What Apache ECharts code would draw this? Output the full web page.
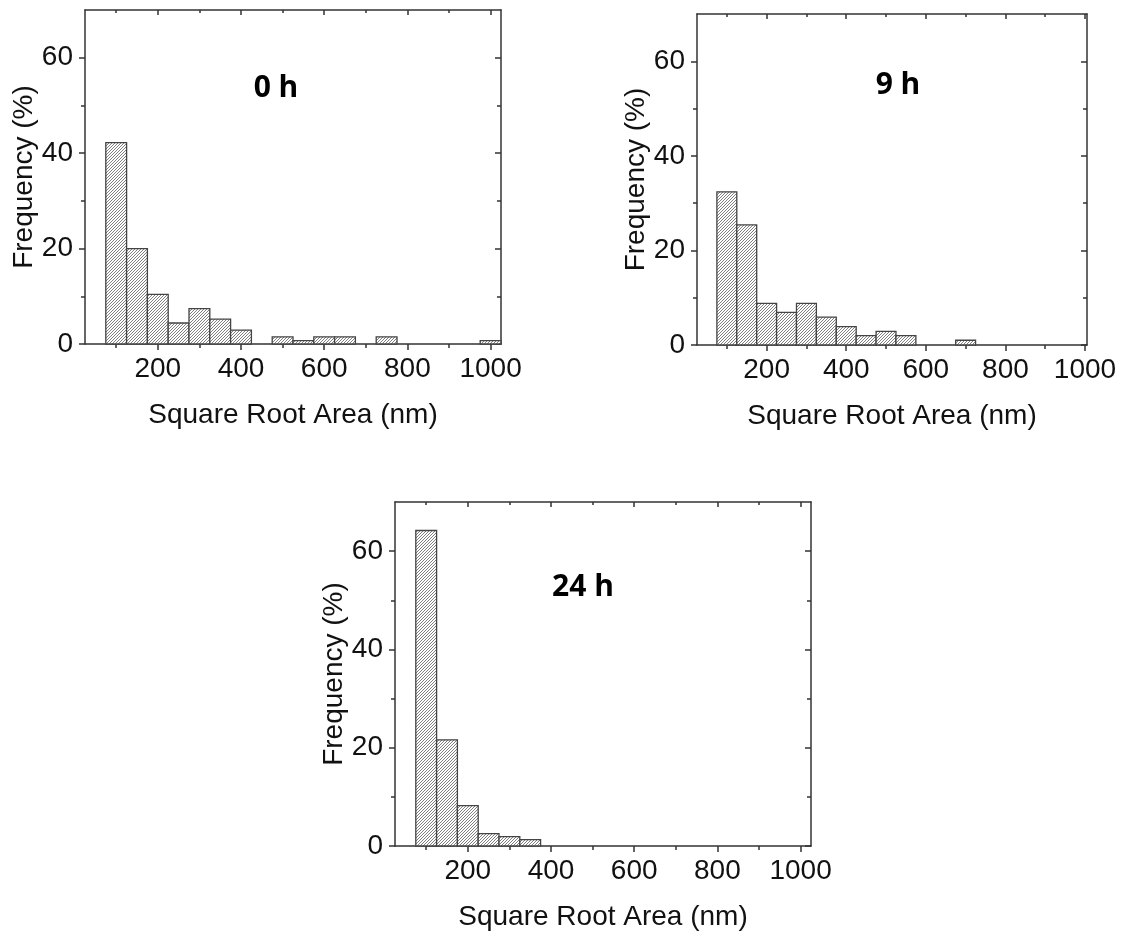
<!DOCTYPE html>
<html>
<head>
<meta charset="utf-8">
<script src="https://cdn.jsdelivr.net/npm/echarts@6/dist/echarts.min.js"></script>
<style>
html, body { margin: 0; padding: 0; background: #fff; }
#chart { width: 1136px; height: 938px; }
</style>
</head>
<body>
<div id="chart"></div>
<script>
// histogram bins, 50 nm wide, given by their centre
var binWidth = 50;
var bins0h = [100, 150, 200, 250, 300, 350, 400, 450, 500, 550, 600, 650, 700, 750, 800, 850, 900, 950, 1000];
var freq0h = [42.2, 20.0, 10.4, 4.4, 7.4, 5.2, 2.9, 0, 1.5, 0.7, 1.5, 1.5, 0, 1.5, 0, 0, 0, 0, 0.7];
var bins9h = [100, 150, 200, 250, 300, 350, 400, 450, 500, 550, 600, 650, 700];
var freq9h = [32.4, 25.4, 8.8, 6.9, 8.8, 5.9, 3.9, 2.0, 2.9, 2.0, 0, 0, 1.0];
var bins24h = [100, 150, 200, 250, 300, 350];
var freq24h = [64.2, 21.6, 8.2, 2.5, 1.9, 1.3];

var panelNames = ['0 h', '9 h', '24 h'];
var xMajorTicks = [200, 400, 600, 800, 1000];
var xMinorTicks = [100, 300, 500, 700, 900];
var yMajorTicks = [0, 20, 40, 60];
var yMinorTicks = [10, 30, 50];
var xName = 'Square Root Area (nm)';
var yName = 'Frequency (%)';

var chart = echarts.init(document.getElementById('chart'));

// diagonal hatch (///) used as the bar fill
function makeHatch() {
    var cv = document.createElement('canvas');
    cv.width = 3;
    cv.height = 3;
    var ctx = cv.getContext('2d');
    ctx.fillStyle = '#ffffff';
    ctx.fillRect(0, 0, 3, 3);
    ctx.fillStyle = '#808080';
    for (var x = 0; x < 3; x++) {
        ctx.fillRect(x, 2 - x, 1, 1);
    }
    return cv;
}
var hatch = { image: makeHatch(), repeat: 'repeat' };

var frameColor = '#333333';
var textColor = '#111111';
var labelFont = { fontFamily: 'Liberation Sans', fontSize: 28, color: textColor };

var grids = [
    { left: 85, top: 10, width: 416, height: 334 },
    { left: 697, top: 14, width: 390, height: 331 },
    { left: 395, top: 502, width: 416, height: 344 }
];
var xRanges = [[25, 1025], [25, 1005], [25, 1025]];
var panelData = [
    [bins0h, freq0h],
    [bins9h, freq9h],
    [bins24h, freq24h]
];
var tagPos = [[276, 88], [898, 85], [583, 587]];

var xAxes = [];
var yAxes = [];
var series = [];
var graphics = [];

function tickAxis(base, extra) {
    return Object.assign({}, base, extra);
}
function plainNum(v) {
    return String(v);
}

for (var g = 0; g < 3; g++) {
    var line = { color: frameColor, width: 1.5 };
    var xBase = { gridIndex: g, type: 'value', min: xRanges[g][0], max: xRanges[g][1], splitLine: { show: false } };
    var yBase = { gridIndex: g, type: 'value', min: 0, max: 70, splitLine: { show: false } };

    // bottom axis with labels
    xAxes.push(tickAxis(xBase, {
        position: 'bottom',
        axisLine: { show: true, onZero: false, lineStyle: line },
        axisTick: { show: true, length: 6, customValues: xMajorTicks, lineStyle: line },
        axisLabel: Object.assign({ customValues: xMajorTicks, margin: 11, formatter: plainNum }, labelFont),
        name: xName,
        nameLocation: 'middle',
        nameGap: 57,
        nameTextStyle: { fontFamily: 'Liberation Sans', fontSize: 28, color: textColor }
    }));
    var mainX = xAxes.length - 1;
    xAxes.push(tickAxis(xBase, {
        position: 'bottom',
        axisLine: { show: false, onZero: false },
        axisTick: { show: true, length: 4, customValues: xMinorTicks, lineStyle: line },
        axisLabel: { show: false }
    }));
    // top frame, ticks inward
    xAxes.push(tickAxis(xBase, {
        position: 'top',
        axisLine: { show: true, onZero: false, lineStyle: line },
        axisTick: { show: true, inside: true, length: 5, customValues: xMajorTicks, lineStyle: line },
        axisLabel: { show: false }
    }));
    xAxes.push(tickAxis(xBase, {
        position: 'top',
        axisLine: { show: false, onZero: false },
        axisTick: { show: true, inside: true, length: 3, customValues: xMinorTicks, lineStyle: line },
        axisLabel: { show: false }
    }));

    // left axis with labels
    yAxes.push(tickAxis(yBase, {
        position: 'left',
        axisLine: { show: true, onZero: false, lineStyle: line },
        axisTick: { show: true, length: 6, customValues: yMajorTicks, lineStyle: line },
        axisLabel: Object.assign({ customValues: yMajorTicks, margin: 12, formatter: plainNum }, labelFont),
        name: yName,
        nameLocation: 'middle',
        nameGap: 46,
        nameTextStyle: { fontFamily: 'Liberation Sans', fontSize: 28, color: textColor }
    }));
    var mainY = yAxes.length - 1;
    yAxes.push(tickAxis(yBase, {
        position: 'left',
        axisLine: { show: false, onZero: false },
        axisTick: { show: true, length: 4, customValues: yMinorTicks, lineStyle: line },
        axisLabel: { show: false }
    }));
    // right frame, ticks inward
    yAxes.push(tickAxis(yBase, {
        position: 'right',
        axisLine: { show: true, onZero: false, lineStyle: line },
        axisTick: { show: true, inside: true, length: 6, customValues: yMajorTicks, lineStyle: line },
        axisLabel: { show: false }
    }));
    yAxes.push(tickAxis(yBase, {
        position: 'right',
        axisLine: { show: false, onZero: false },
        axisTick: { show: true, inside: true, length: 4, customValues: yMinorTicks, lineStyle: line },
        axisLabel: { show: false }
    }));

    var rows = [];
    for (var i = 0; i < panelData[g][0].length; i++) {
        rows.push([panelData[g][0][i], panelData[g][1][i]]);
    }
    series.push({
        type: 'custom',
        xAxisIndex: mainX,
        yAxisIndex: mainY,
        data: rows,
        silent: true,
        renderItem: function (params, api) {
            var c = api.value(0);
            var f = api.value(1);
            if (!(f > 0)) {
                return null;
            }
            var p0 = api.coord([c - binWidth / 2, f]);
            var p1 = api.coord([c + binWidth / 2, 0]);
            return {
                type: 'rect',
                shape: { x: p0[0], y: p0[1], width: p1[0] - p0[0], height: p1[1] - p0[1] },
                style: { fill: hatch, stroke: '#444444', lineWidth: 1.3 }
            };
        }
    });

    graphics.push({
        type: 'text',
        x: tagPos[g][0],
        y: tagPos[g][1],
        style: {
            text: panelNames[g],
            font: 'bold 30px "Open Sans"',
            fill: '#000',
            align: 'center',
            verticalAlign: 'middle'
        }
    });
}

chart.setOption({
    animation: false,
    backgroundColor: '#ffffff',
    grid: grids,
    xAxis: xAxes,
    yAxis: yAxes,
    series: series,
    graphic: graphics
});
</script>
</body>
</html>
